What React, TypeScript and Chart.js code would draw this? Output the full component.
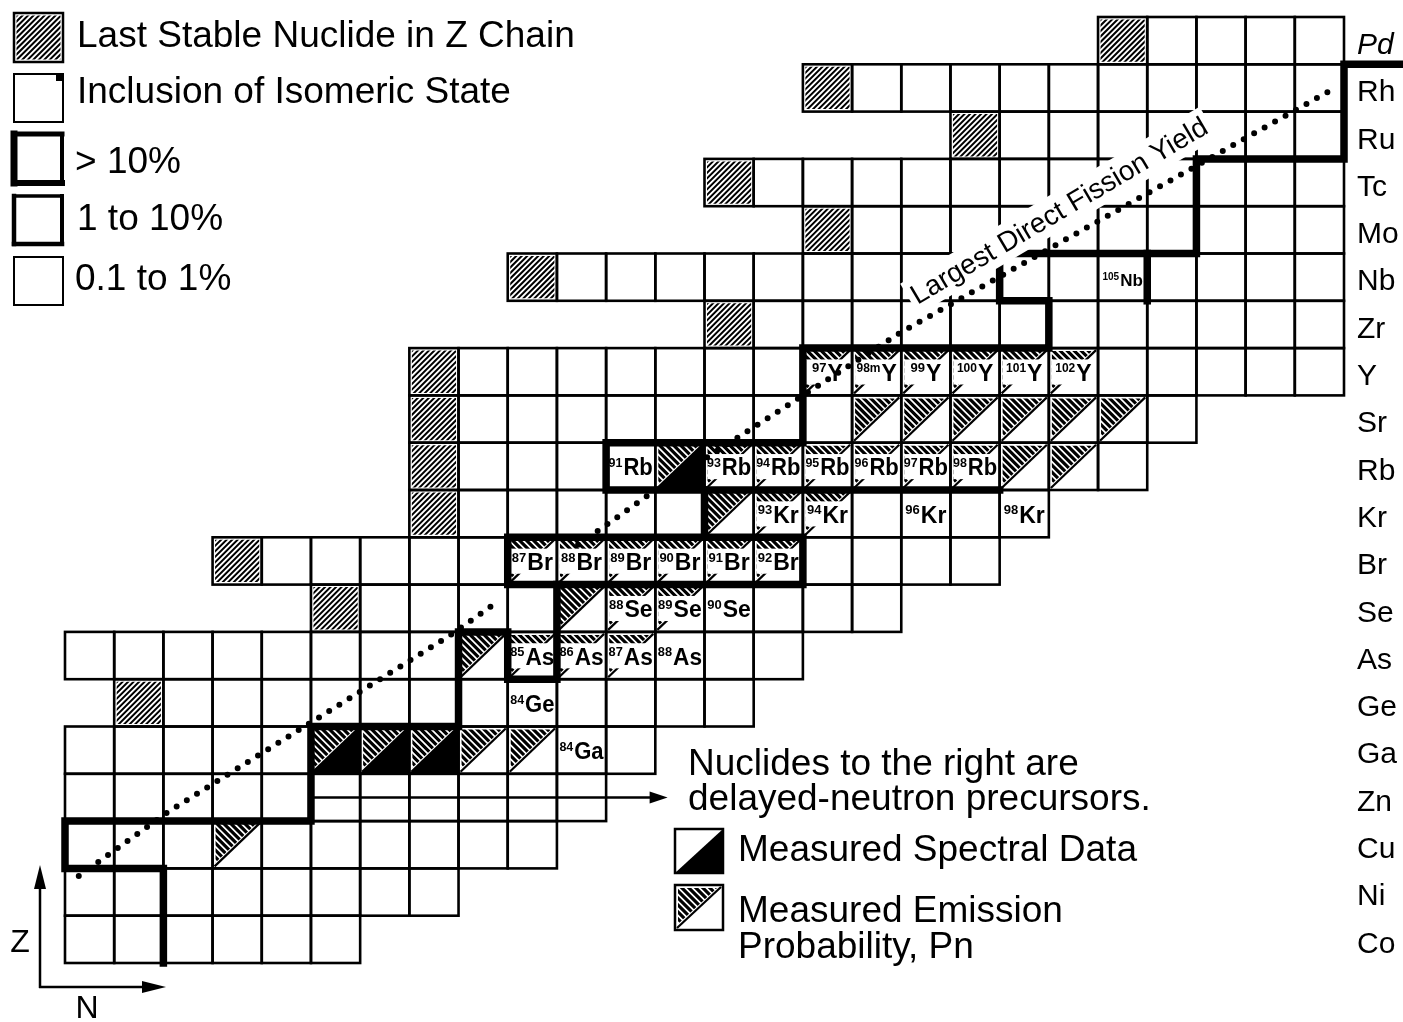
import React, { useEffect, useRef } from 'react';
import { Chart, registerables } from 'chart.js';

Chart.register(...registerables);

const FONT = '"Liberation Sans", Arial, Helvetica, sans-serif';

// Rows (proton number Z) and their element symbols
const Z_VALUES = [27, 28, 29, 30, 31, 32, 33, 34, 35, 36, 37, 38, 39, 40, 41, 42, 43, 44, 45, 46];
const ELEMENT_SYMBOLS = ['Co', 'Ni', 'Cu', 'Zn', 'Ga', 'Ge', 'As', 'Se', 'Br', 'Kr', 'Rb', 'Sr', 'Y', 'Zr', 'Nb', 'Mo', 'Tc', 'Ru', 'Rh', 'Pd'];
// first / last neutron number N drawn in each row
const ROW_FIRST_N = [43, 43, 43, 43, 43, 44, 43, 48, 46, 50, 50, 50, 50, 56, 52, 58, 56, 61, 58, 64];
const ROW_LAST_N = [48, 50, 52, 53, 54, 56, 57, 59, 61, 62, 64, 65, 68, 68, 68, 68, 68, 68, 68, 68];

// last stable nuclide in each Z chain
const STABLE_Z = [32, 34, 35, 36, 37, 38, 39, 40, 41, 42, 43, 44, 45, 46];
const STABLE_N = [44, 48, 46, 50, 50, 50, 50, 56, 52, 58, 56, 61, 58, 64];

// measured spectral data
const SPECTRAL_Z = [31, 31, 31, 37];
const SPECTRAL_N = [48, 49, 50, 55];

// measured emission probability (unlabelled cells)
const PN_Z = [29, 31, 31, 33, 34, 36, 37, 37, 38, 38, 38, 38, 38, 38];
const PN_N = [46, 51, 52, 51, 53, 56, 62, 63, 59, 60, 61, 62, 63, 64];

// labelled nuclides
const LABEL_Z = [37, 37, 37, 37, 37, 37, 37, 36, 36, 36, 36, 35, 35, 35, 35, 35, 35, 34, 34, 34, 33, 33, 33, 33, 32, 31, 39, 39, 39, 39, 39, 39, 41];
const LABEL_N = [54, 56, 57, 58, 59, 60, 61, 57, 58, 60, 62, 52, 53, 54, 55, 56, 57, 54, 55, 56, 52, 53, 54, 55, 52, 53, 58, 59, 60, 61, 62, 63, 64];
const LABEL_MASS = ['91', '93', '94', '95', '96', '97', '98', '93', '94', '96', '98', '87', '88', '89', '90', '91', '92', '88', '89', '90', '85', '86', '87', '88', '84', '84', '97', '98m', '99', '100', '101', '102', '105'];
const LABEL_PN = [0, 1, 1, 1, 1, 1, 1, 1, 1, 0, 0, 1, 1, 1, 1, 1, 1, 1, 1, 0, 1, 1, 1, 0, 0, 0, 1, 1, 1, 1, 1, 1, 0];

// "Largest Direct Fission Yield" dotted path (N, Z); null = gap in the dots
const FISSION_PATH_N = [42.78, 44.59, 50.33, 51.34, 52.0, 52.93, 54.33, 59.47, 66.04, 68.35];
const FISSION_PATH_Z = [28.34, 29.69, 33.43, 34.17, null, 35.34, 36.37, 39.82, 43.67, 45.02];

// >10% boundary lines, as cell-edge coordinates (N, Z)
const BOUNDARY_LOW = [[44.5, 26.5], [44.5, 28.5], [42.5, 28.5], [42.5, 29.5], [47.5, 29.5], [47.5, 31.5], [50.5, 31.5], [50.5, 33.5], [51.5, 33.5], [51.5, 32.5], [52.5, 32.5], [52.5, 34.5]];
const BOUNDARY_BR = [[51.5, 34.5], [57.5, 34.5], [57.5, 35.5], [51.5, 35.5], [51.5, 34.5]];
const BOUNDARY_KR = [[55.5, 35.5], [55.5, 36.5], [61.5, 36.5]];
const BOUNDARY_RB = [[55.5, 36.5], [53.5, 36.5], [53.5, 37.5], [57.5, 37.5], [57.5, 39.5], [62.5, 39.5], [62.5, 40.5], [61.5, 40.5], [61.5, 41.5], [65.5, 41.5], [65.5, 43.5], [68.5, 43.5], [68.5, 45.5], [69.75, 45.5]];
const BOUNDARY_NB = [[64.5, 40.5], [64.5, 41.5]];
const BOUNDARIES = [BOUNDARY_LOW, BOUNDARY_BR, BOUNDARY_KR, BOUNDARY_RB, BOUNDARY_NB];

// precursor arrow
const ARROW_N = [47.5, 54.75];
const ARROW_Z = 30;

// rotated annotation
const PATH_LABEL = 'Largest Direct Fission Yield';
const PATH_LABEL_N = 62.8;
const PATH_LABEL_Z = 42.24;
const PATH_LABEL_ANGLE = -30.6;

const LEGEND_TOP = ['Last Stable Nuclide in Z Chain', 'Inclusion of Isomeric State', '> 10%', '1 to 10%', '0.1 to 1%'];
const LEGEND_BOTTOM = ['Nuclides to the right are', 'delayed-neutron precursors.', 'Measured Spectral Data', 'Measured Emission', 'Probability, Pn'];

type Ctx = CanvasRenderingContext2D;

function hatch(ctx: Ctx, clip: () => void, x: number, y: number, w: number, h: number, spacing: number, lw: number, dir: number) {
  ctx.save();
  ctx.beginPath();
  clip();
  ctx.clip();
  ctx.beginPath();
  ctx.lineWidth = lw;
  ctx.strokeStyle = '#000';
  for (let k = -h; k <= w + h; k += spacing) {
    if (dir > 0) {
      ctx.moveTo(x + k, y + h);
      ctx.lineTo(x + k + h, y);
    } else {
      ctx.moveTo(x + k, y);
      ctx.lineTo(x + k + h, y + h);
    }
  }
  ctx.stroke();
  ctx.restore();
}

function stableCell(ctx: Ctx, x: number, y: number, w: number, h: number) {
  hatch(ctx, () => ctx.rect(x + 2.5, y + 2.5, w - 5, h - 5), x, y, w, h, 5.5, 2, 1);
}

function pnTriangle(ctx: Ctx, x: number, y: number, w: number, h: number) {
  const m = 3;
  hatch(ctx, () => {
    ctx.moveTo(x + m, y + m);
    ctx.lineTo(x + w - m * 2, y + m);
    ctx.lineTo(x + m, y + h - m * 2);
    ctx.closePath();
  }, x, y, w, h, 7, 3.2, -1);
  ctx.beginPath();
  ctx.lineWidth = 2.2;
  ctx.moveTo(x + 2, y + h - 2);
  ctx.lineTo(x + w - 2, y + 2);
  ctx.stroke();
}

function spectralTriangle(ctx: Ctx, x: number, y: number, w: number, h: number) {
  ctx.beginPath();
  ctx.moveTo(x + w, y);
  ctx.lineTo(x + w, y + h);
  ctx.lineTo(x, y + h);
  ctx.closePath();
  ctx.fillStyle = '#000';
  ctx.fill();
}

function nuclideLabel(ctx: Ctx, x: number, y: number, w: number, h: number, mass: string, sym: string, pn: boolean) {
  if (pn) {
    ctx.fillStyle = '#fff';
    ctx.fillRect(x + 3, y + h * 0.24, w - 6, h * 0.53);
  }
  const small = sym === 'Nb';
  const symSize = small ? 17 : 23;
  const massSize = small ? 10 : mass.length > 2 ? 12 : 13;
  ctx.font = `bold ${symSize}px ${FONT}`;
  const sw = ctx.measureText(sym).width;
  ctx.font = `bold ${massSize}px ${FONT}`;
  const mw = ctx.measureText(mass).width;
  const total = mw + sw + 1;
  const sc = Math.min(1, (w - 5) / total);
  ctx.save();
  ctx.translate(x + w / 2, y + h * 0.69);
  ctx.scale(sc, 1);
  ctx.fillStyle = '#000';
  ctx.textAlign = 'left';
  ctx.textBaseline = 'alphabetic';
  ctx.fillText(mass, -total / 2, -symSize * 0.36);
  ctx.font = `bold ${symSize}px ${FONT}`;
  ctx.fillText(sym, -total / 2 + mw + 1, 0);
  ctx.restore();
}

function arrowHead(ctx: Ctx, tx: number, ty: number, dx: number, dy: number, len: number, half: number) {
  const px = -dy, py = dx;
  ctx.beginPath();
  ctx.moveTo(tx, ty);
  ctx.lineTo(tx - dx * len + px * half, ty - dy * len + py * half);
  ctx.lineTo(tx - dx * len - px * half, ty - dy * len - py * half);
  ctx.closePath();
  ctx.fillStyle = '#000';
  ctx.fill();
}

const nuclidePlugin = {
  id: 'nuclideChart',
  beforeDatasetsDraw(chart: any) {
    const ctx: Ctx = chart.ctx;
    const xs = chart.scales.x;
    const ys = chart.scales.y;
    const px = (n: number) => xs.getPixelForValue(n);
    const py = (z: number) => ys.getPixelForValue(z);
    const cell = (n: number, z: number) => {
      const x0 = px(n - 0.5), x1 = px(n + 0.5), y0 = py(z + 0.5), y1 = py(z - 0.5);
      return { x: x0, y: y0, w: x1 - x0, h: y1 - y0 };
    };
    ctx.save();
    ctx.strokeStyle = '#000';
    ctx.lineCap = 'butt';

    STABLE_Z.forEach((z, i) => {
      const c = cell(STABLE_N[i], z);
      stableCell(ctx, c.x, c.y, c.w, c.h);
    });
    PN_Z.forEach((z, i) => {
      const c = cell(PN_N[i], z);
      pnTriangle(ctx, c.x, c.y, c.w, c.h);
    });
    SPECTRAL_Z.forEach((z, i) => {
      const c = cell(SPECTRAL_N[i], z);
      spectralTriangle(ctx, c.x, c.y, c.w, c.h);
      pnTriangle(ctx, c.x, c.y, c.w, c.h);
    });
    LABEL_Z.forEach((z, i) => {
      const c = cell(LABEL_N[i], z);
      if (LABEL_PN[i]) pnTriangle(ctx, c.x, c.y, c.w, c.h);
      const sym = ELEMENT_SYMBOLS[Z_VALUES.indexOf(z)];
      nuclideLabel(ctx, c.x, c.y, c.w, c.h, LABEL_MASS[i], sym, !!LABEL_PN[i]);
    });

    // grid of cells
    ctx.lineWidth = 2.6;
    ctx.strokeStyle = '#000';
    Z_VALUES.forEach((z, i) => {
      for (let n = ROW_FIRST_N[i]; n <= ROW_LAST_N[i]; n++) {
        const c = cell(n, z);
        ctx.strokeRect(c.x, c.y, c.w, c.h);
      }
    });

    // >10% boundaries
    ctx.lineWidth = 7.5;
    ctx.lineJoin = 'miter';
    ctx.lineCap = 'square';
    BOUNDARIES.forEach((path) => {
      ctx.beginPath();
      path.forEach((p, k) => {
        if (k === 0) ctx.moveTo(px(p[0]), py(p[1]));
        else ctx.lineTo(px(p[0]), py(p[1]));
      });
      ctx.stroke();
    });

    // precursor arrow
    ctx.lineCap = 'butt';
    ctx.lineWidth = 2.5;
    const ax0 = px(ARROW_N[0]), ax1 = px(ARROW_N[1]), ay = py(ARROW_Z);
    ctx.beginPath();
    ctx.moveTo(ax0, ay);
    ctx.lineTo(ax1 - 12, ay);
    ctx.stroke();
    arrowHead(ctx, ax1, ay, 1, 0, 18, 6);

    // rotated path label on a white band (dots are drawn on top afterwards)
    ctx.save();
    ctx.translate(px(PATH_LABEL_N), py(PATH_LABEL_Z));
    ctx.rotate((PATH_LABEL_ANGLE * Math.PI) / 180);
    ctx.font = `28px ${FONT}`;
    ctx.textAlign = 'center';
    ctx.textBaseline = 'alphabetic';
    const tw = ctx.measureText(PATH_LABEL).width;
    ctx.fillStyle = '#fff';
    ctx.fillRect(-tw / 2 - 4, -27, tw + 8, 36);
    ctx.fillStyle = '#000';
    ctx.fillText(PATH_LABEL, 0, 0);
    ctx.restore();
    ctx.restore();
  },
  afterDatasetsDraw(chart: any) {
    const ctx: Ctx = chart.ctx;
    ctx.save();

    // top-left legend
    ctx.strokeStyle = '#000';
    ctx.fillStyle = '#000';
    ctx.lineCap = 'square';
    stableCell(ctx, 14, 13, 49, 49);
    ctx.lineWidth = 2.5;
    ctx.strokeRect(14, 13, 49, 49);
    ctx.lineWidth = 2;
    ctx.strokeRect(14, 74, 49, 48);
    ctx.fillRect(56, 73, 8, 8);
    const side = (x0: number, y0: number, x1: number, y1: number, lw: number) => {
      ctx.lineWidth = lw;
      ctx.beginPath();
      ctx.moveTo(x0, y0);
      ctx.lineTo(x1, y1);
      ctx.stroke();
    };
    side(14, 134, 14, 183, 7);
    side(14, 134, 62, 134, 5);
    side(14, 183, 62, 183, 6);
    side(62, 134, 62, 183, 4);
    side(14, 196, 14, 244, 4.5);
    side(14, 196, 62, 196, 3.5);
    side(14, 244, 62, 244, 4.5);
    side(62, 196, 62, 244, 4);
    ctx.lineWidth = 2;
    ctx.strokeRect(14, 257, 49, 48);

    ctx.font = `37px ${FONT}`;
    ctx.textAlign = 'left';
    ctx.textBaseline = 'alphabetic';
    const topX = [77, 77, 75, 77, 75];
    const topY = [47, 103, 173, 230, 290];
    LEGEND_TOP.forEach((t, i) => ctx.fillText(t, topX[i], topY[i]));

    // bottom-right legend
    ctx.lineCap = 'butt';
    spectralTriangle(ctx, 675, 829, 48, 44);
    ctx.lineWidth = 2.5;
    ctx.strokeRect(675, 829, 48, 44);
    pnTriangle(ctx, 675, 885, 48, 45);
    ctx.lineWidth = 2.5;
    ctx.strokeRect(675, 885, 48, 45);
    ctx.font = `37px ${FONT}`;
    const botX = [688, 688, 738, 738, 738];
    const botY = [775, 810, 861, 922, 958];
    LEGEND_BOTTOM.forEach((t, i) => ctx.fillText(t, botX[i], botY[i]));

    // Z / N axis arrows
    ctx.lineWidth = 2.5;
    ctx.beginPath();
    ctx.moveTo(40, 988);
    ctx.lineTo(40, 880);
    ctx.moveTo(39, 987);
    ctx.lineTo(150, 987);
    ctx.stroke();
    arrowHead(ctx, 40, 865, 0, -1, 24, 6);
    arrowHead(ctx, 166, 987, 1, 0, 24, 6);
    ctx.font = `32px ${FONT}`;
    ctx.textAlign = 'center';
    ctx.fillText('Z', 20, 952);
    ctx.fillText('N', 87, 1018);
    ctx.restore();
  },
};

export default function App() {
  const canvasRef = useRef<HTMLCanvasElement | null>(null);

  useEffect(() => {
    if (!canvasRef.current) return;
    const chart = new Chart(canvasRef.current, {
      type: 'line',
      data: {
        datasets: [
          {
            label: PATH_LABEL,
            data: FISSION_PATH_N.map((n, i) => ({ x: n, y: FISSION_PATH_Z[i] })),
            borderColor: '#000',
            borderWidth: 6,
            borderDash: [0, 12],
            borderCapStyle: 'round',
            pointRadius: 0,
            fill: false,
            tension: 0,
            spanGaps: false,
          } as any,
        ],
      },
      options: {
        animation: false,
        responsive: false,
        maintainAspectRatio: false,
        devicePixelRatio: 1,
        events: [],
        layout: { padding: { left: 65, top: 17, bottom: 59, right: 0 } },
        plugins: { legend: { display: false }, tooltip: { enabled: false } },
        scales: {
          x: { type: 'linear', min: 42.5, max: 68.5, display: false },
          y: {
            type: 'linear',
            min: 26.5,
            max: 46.5,
            position: 'right',
            grid: { display: false, drawTicks: false },
            border: { display: false },
            afterBuildTicks: (scale: any) => {
              scale.ticks = Z_VALUES.map((v) => ({ value: v }));
            },
            afterFit: (scale: any) => {
              scale.width = 59;
              scale.paddingTop = 0;
              scale.paddingBottom = 0;
            },
            ticks: {
              autoSkip: false,
              padding: 13,
              labelOffset: 5,
              color: '#000',
              font: (c: any) => ({
                family: FONT,
                size: 30,
                style: c.tick && c.tick.value === 46 ? 'italic' : 'normal',
              }),
              callback: (v: any) => ELEMENT_SYMBOLS[Z_VALUES.indexOf(Number(v))] || '',
            },
          },
        },
      } as any,
      plugins: [nuclidePlugin],
    });
    return () => chart.destroy();
  }, []);

  return (
    <div style={{ position: 'fixed', left: 0, top: 0, width: 1403, height: 1022, background: '#fff' }}>
      <canvas ref={canvasRef} width={1403} height={1022} style={{ display: 'block', width: 1403, height: 1022 }} />
    </div>
  );
}
